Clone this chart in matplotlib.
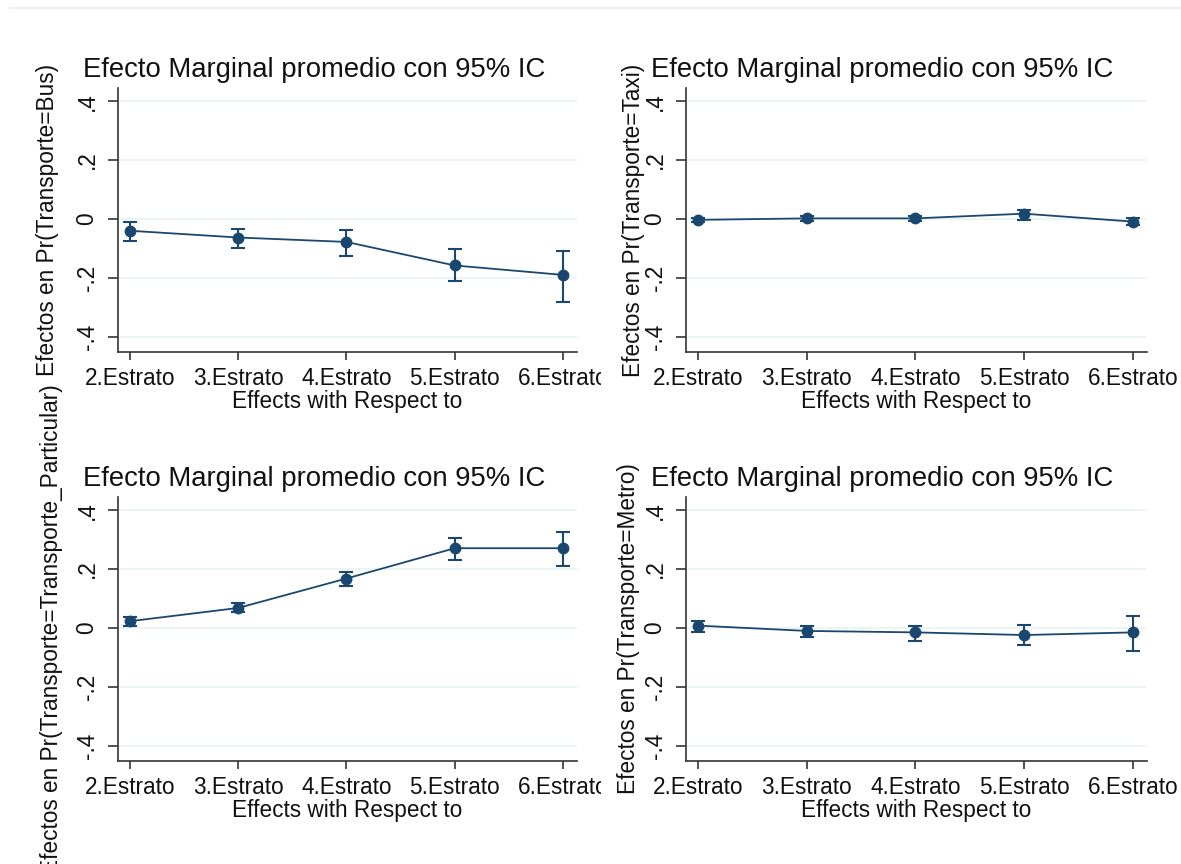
import matplotlib
matplotlib.use("Agg")
import matplotlib.pyplot as plt
from matplotlib.lines import Line2D
from matplotlib.transforms import Bbox
import numpy as np

plt.rcParams['font.family'] = ['Liberation Sans', 'DejaVu Sans']

categories = ["2.Estrato", "3.Estrato", "4.Estrato", "5.Estrato", "6.Estrato"]
yticks = [-0.4, -0.2, 0.0, 0.2, 0.4]
ytick_labels = ["-.4", "-.2", "0", ".2", ".4"]

title = "Efecto Marginal promedio con 95% IC"
xlabel = "Effects with Respect to"

bus_est = [-0.040, -0.063, -0.078, -0.158, -0.190]
bus_lo = [-0.075, -0.099, -0.127, -0.210, -0.282]
bus_hi = [-0.009, -0.033, -0.037, -0.103, -0.108]

taxi_est = [-0.003, 0.002, 0.002, 0.018, -0.009]
taxi_lo = [-0.010, -0.006, -0.006, -0.003, -0.020]
taxi_hi = [0.004, 0.009, 0.009, 0.031, 0.002]

part_est = [0.023, 0.068, 0.168, 0.271, 0.271]
part_lo = [0.008, 0.053, 0.143, 0.232, 0.209]
part_hi = [0.036, 0.085, 0.190, 0.307, 0.327]

metro_est = [0.008, -0.010, -0.015, -0.024, -0.015]
metro_lo = [-0.012, -0.031, -0.045, -0.059, -0.077]
metro_hi = [0.023, 0.005, 0.007, 0.011, 0.040]

panels = [
    ("Efectos en Pr(Transporte=Bus)", bus_est, bus_lo, bus_hi),
    ("Efectos en Pr(Transporte=Taxi)", taxi_est, taxi_lo, taxi_hi),
    ("Efectos en Pr(Transporte=Transporte_Particular)", part_est, part_lo, part_hi),
    ("Efectos en Pr(Transporte=Metro)", metro_est, metro_lo, metro_hi),
]

W, H = 1181, 864
fig = plt.figure(figsize=(W / 100, H / 100), dpi=100)
fig.patch.set_facecolor("white")

# axes boxes in pixels: (left, top, right, bottom)
boxes = [
    (118, 88, 577, 352),
    (686, 88, 1147, 352),
    (118, 497, 577, 761),
    (686, 497, 1147, 761),
]
ylabel_x = [-0.153, -0.113, -0.144, -0.125]
# right edge (pixels) of each sub-graph region; text beyond it is clipped
region_right = [601, W, 601, W]

navy = "#1a476f"
grid_c = "#eaf2f3"
fs = 16.3

for (ylab, est, lo, hi), (l, t, r, b), ylx, rr in zip(panels, boxes, ylabel_x, region_right):
    ax = fig.add_axes([l / W, 1 - b / H, (r - l) / W, (b - t) / H])
    x = np.arange(len(categories))
    est = np.array(est)
    lo = np.array(lo)
    hi = np.array(hi)
    ax.errorbar(x, est, yerr=[est - lo, hi - est], fmt='none', ecolor=navy,
                elinewidth=1.5, capsize=5, capthick=1.5, zorder=3)
    ax.plot(x, est, color=navy, lw=1.3, marker='o', markersize=7.5,
            markerfacecolor=navy, markeredgecolor=navy, zorder=4)
    ax.set_xlim(-0.11, 4.13)
    ax.set_ylim(-0.452, 0.445)
    ax.set_yticks(yticks)
    ax.set_yticklabels(ytick_labels, rotation=90, va='center', fontsize=fs)
    ax.set_xticks(x)
    xtl = ax.set_xticklabels(categories, fontsize=fs)
    if rr < W:
        clip = Bbox.from_extents(0, 0, rr, H)
        for lbl in xtl:
            lbl.set_clip_box(clip)
            lbl.set_clip_on(True)
    ax.yaxis.grid(True, color=grid_c, lw=1.2)
    ax.set_axisbelow(True)
    for s in ("top", "right"):
        ax.spines[s].set_visible(False)
    for s in ("left", "bottom"):
        ax.spines[s].set_color("#333333")
        ax.spines[s].set_linewidth(1.2)
    ax.tick_params(axis='y', direction='out', length=7, width=1.2,
                   color="#333333", labelcolor="#111111", pad=7)
    ax.tick_params(axis='x', direction='out', length=6, width=1.2,
                   color="#333333", labelcolor="#111111", pad=4.5)
    ax.set_xlabel(xlabel, fontsize=fs, labelpad=0, color="#111111")
    ax.set_ylabel(ylab, fontsize=fs, color="#111111")
    ax.yaxis.label.set_va('center')
    ax.yaxis.set_label_coords(ylx, 0.5)
    ax.set_title(title, fontsize=19.8, loc='left', x=-0.077, y=1.0, pad=8,
                 color="#111111")

fig.add_artist(Line2D([10 / W, 1.0], [1 - 8 / H, 1 - 8 / H], color="#e6edef", lw=1.2))

fig.savefig("out.png", dpi=100, facecolor="white")
